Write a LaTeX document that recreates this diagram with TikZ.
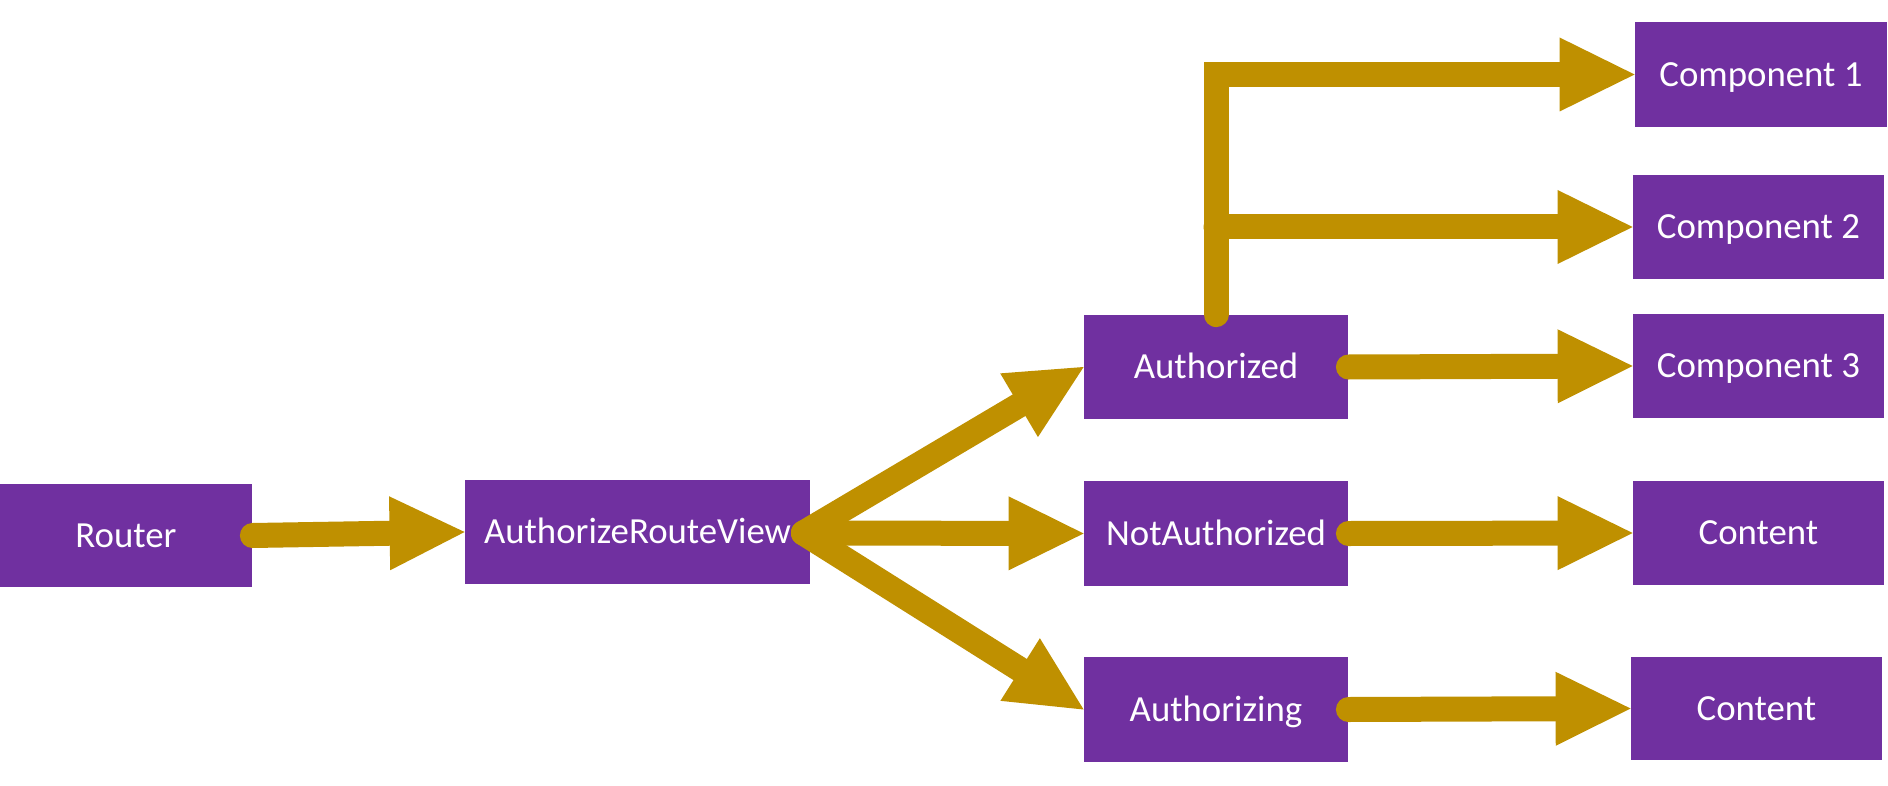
\documentclass[tikz,border=0pt]{standalone}
\usepackage{fontspec}
\setmainfont{Carlito}
\usetikzlibrary{arrows.meta}
\definecolor{boxpurple}{HTML}{7030A0}
\definecolor{arrowgold}{HTML}{BF9000}
\begin{document}
\begin{tikzpicture}[x=0.5pt,y=-0.5pt,
  box/.style={fill=boxpurple, text=white, inner sep=0pt, font=\fontsize{18.4pt}{22pt}\selectfont,
    text height=16.5pt, text depth=4.7pt, anchor=center},
  flow/.style={draw=arrowgold, line width=12.5pt, line cap=round, line join=miter,
    -{Triangle[length=37.5pt, width=37pt, line width=0pt]}}
]
\useasboundingbox (0,0) rectangle (1888,786);
% nodes
\node[box, minimum width=126pt, minimum height=51.5pt] (router) at (126,535.5) {Router};
\node[box, minimum width=172.5pt, minimum height=52pt] (arv) at (637.5,532) {AuthorizeRouteView};
\node[box, minimum width=132pt, minimum height=52pt] (authd) at (1216,367) {Authorized};
\node[box, minimum width=132pt, minimum height=52.5pt] (notauth) at (1216,533.5) {NotAuthorized};
\node[box, minimum width=132pt, minimum height=52.5pt] (authing) at (1216,709.5) {Authorizing};
\node[box, minimum width=126pt, minimum height=52.5pt] (comp1) at (1761,74.5) {Component 1};
\node[box, minimum width=125.5pt, minimum height=52pt] (comp2) at (1758.5,227) {Component 2};
\node[box, minimum width=125.5pt, minimum height=52pt] (comp3) at (1758.5,366) {Component 3};
\node[box, minimum width=125.5pt, minimum height=52pt] (content1) at (1758.5,533) {Content};
\node[box, minimum width=125.5pt, minimum height=51.5pt] (content2) at (1756.5,708.5) {Content};
% helper coordinates
\coordinate (fan) at ([xshift=-3.5pt,yshift=-0.5pt]arv.east);
% connectors
\draw[flow] (router.east) -- (arv.west);
\draw[flow] (fan) -- (authd.west);
\draw[flow] (fan) -- (notauth.west);
\draw[flow] (fan) -- (authing.west);
\draw[flow] (authd.north) -- (authd.north |- comp1.west) -- (comp1.west);
\draw[flow] (authd.north |- comp2.west) -- (comp2.west);
\draw[flow] (authd.east) -- (comp3.west);
\draw[flow] (notauth.east) -- (content1.west);
\draw[flow] (authing.east) -- (content2.west);
\end{tikzpicture}
\end{document}
